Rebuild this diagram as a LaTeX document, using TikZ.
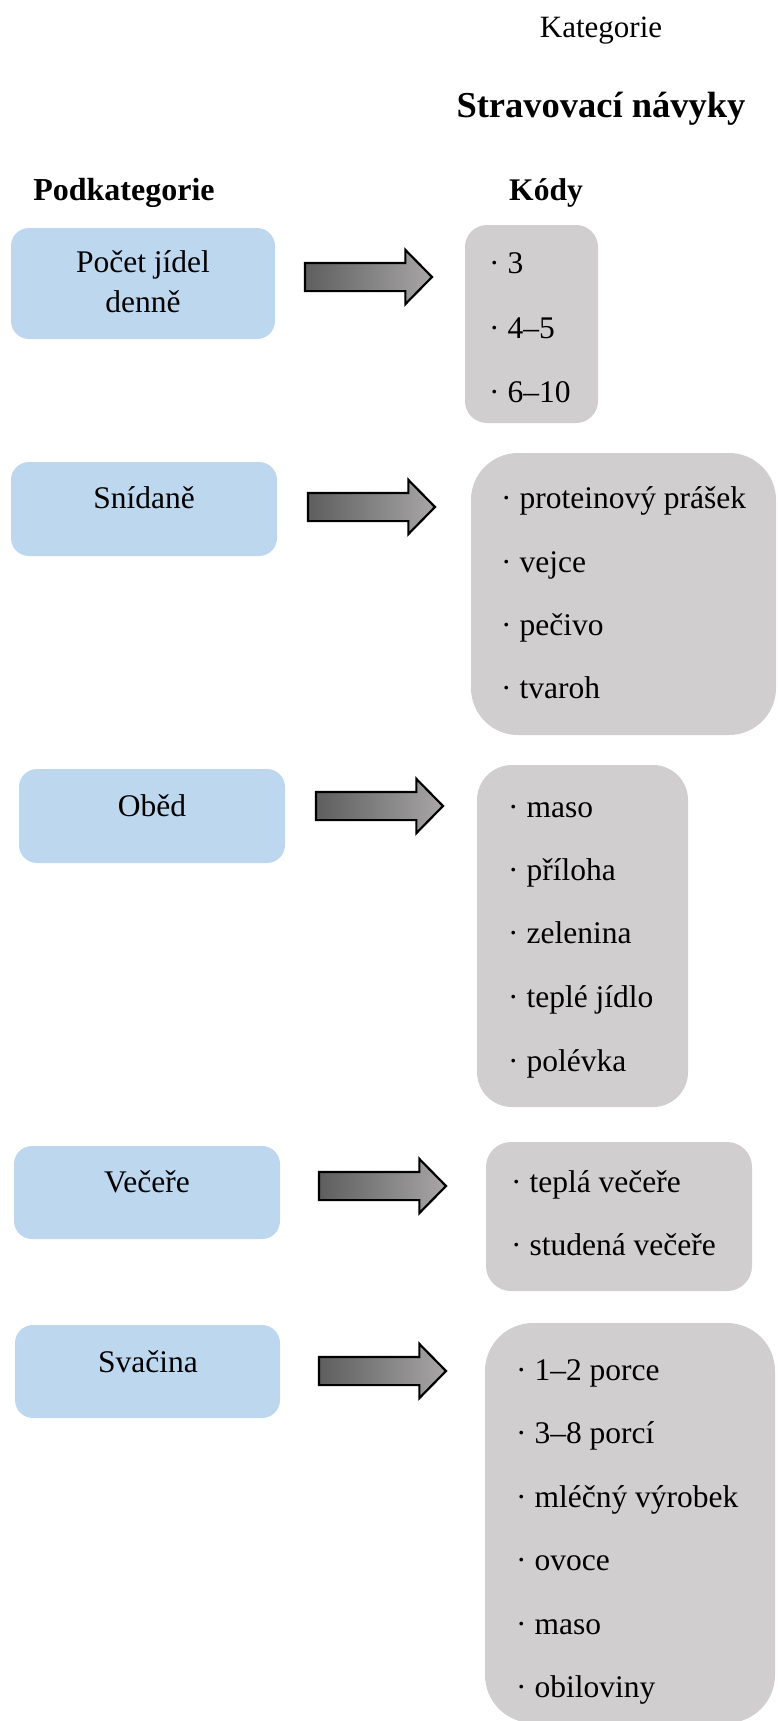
\documentclass[tikz,border=0pt]{standalone}
\usepackage{fontspec}
\setmainfont{Liberation Serif}
\usetikzlibrary{shapes.arrows}
\definecolor{subblue}{HTML}{BDD7EE}
\definecolor{codegray}{HTML}{D0CECE}
\definecolor{arrdark}{HTML}{5E5E5E}
\definecolor{arrlight}{HTML}{A8A6A6}
\begin{document}
\begin{tikzpicture}[x=1pt,y=-1pt,
  subbox/.style={fill=subblue, draw=none, anchor=north west, inner sep=0pt, outer sep=0pt, rounded corners=18pt},
  codebox/.style={fill=codegray, draw=none, anchor=north west, inner sep=0pt, outer sep=0pt},
  bodyfont/.style={font=\fontsize{31.5}{40}\selectfont},
  sublabel/.style={bodyfont, anchor=base, inner sep=0pt, align=center},
  codeitem/.style={bodyfont, anchor=base west, inner sep=0pt},
  headreg/.style={anchor=base, inner sep=0pt, font=\fontsize{31}{36}\selectfont},
  headbold/.style={anchor=base, inner sep=0pt, font=\bfseries\fontsize{#1}{40}\selectfont},
  blockarrow/.style={single arrow, draw=black, line width=2.2pt, left color=arrdark, right color=arrlight,
    inner xsep=0pt, inner ysep=13pt, minimum width=52pt, minimum height=127pt,
    single arrow head extend=13pt, single arrow tip angle=91, anchor=tail, outer sep=0pt},
  ]
\useasboundingbox (0,0) rectangle (778,1721);

% headings
\node[headreg] (kat) at (601,37) {Kategorie};
\node[headbold=36.5] (title) at (601,117) {Stravovací návyky};
\node[headbold=32] (podk) at (124,200) {Podkategorie};
\node[headbold=31.5] (kody) at (546,200) {Kódy};

% subcategory boxes
\node[subbox, minimum width=264pt, minimum height=111pt] (s1) at (11,228) {};
\node[subbox, minimum width=266pt, minimum height=94pt] (s2) at (11,462) {};
\node[subbox, minimum width=266pt, minimum height=94pt] (s3) at (19,769) {};
\node[subbox, minimum width=266pt, minimum height=93pt] (s4) at (14,1146) {};
\node[subbox, minimum width=265pt, minimum height=93pt] (s5) at (15,1325) {};

% (base anchor of a two-line node is the baseline of its last line)
\node[sublabel] (t1) at (143,312) {Počet jídel\\denně};
\node[sublabel] (t2) at (144,508) {Snídaně};
\node[sublabel] (t3) at (152,816) {Oběd};
\node[sublabel] (t4) at (147,1192) {Večeře};
\node[sublabel] (t5) at (148,1372) {Svačina};

% code boxes
\node[codebox, rounded corners=22pt, minimum width=133pt, minimum height=198pt] (c1) at (465,225) {};
\node[codebox, rounded corners=47pt, minimum width=305pt, minimum height=282pt] (c2) at (471,453) {};
\node[codebox, rounded corners=35pt, minimum width=211pt, minimum height=342pt] (c3) at (477,765) {};
\node[codebox, rounded corners=25pt, minimum width=266pt, minimum height=149pt] (c4) at (486,1142) {};
\node[codebox, rounded corners=48pt, minimum width=290pt, minimum height=400pt] (c5) at (485,1323) {};

% arrows
\node[blockarrow] (a1) at (305,277) {};
\node[blockarrow] (a2) at (308,507) {};
\node[blockarrow] (a3) at (316,806) {};
\node[blockarrow] (a4) at (319,1186) {};
\node[blockarrow] (a5) at (319,1371) {};

% code items
\node[codeitem] (i11) at (489,273) {· 3};
\node[codeitem] (i12) at (489,338) {· 4–5};
\node[codeitem] (i13) at (489,402) {· 6–10};

\node[codeitem] (i21) at (501,508) {· proteinový prášek};
\node[codeitem] (i22) at (501,572) {· vejce};
\node[codeitem] (i23) at (501,635) {· pečivo};
\node[codeitem] (i24) at (501,698) {· tvaroh};

\node[codeitem] (i31) at (508,817) {· maso};
\node[codeitem] (i32) at (508,880) {· příloha};
\node[codeitem] (i33) at (508,943) {· zelenina};
\node[codeitem] (i34) at (508,1007) {· teplé jídlo};
\node[codeitem] (i35) at (508,1071) {· polévka};

\node[codeitem] (i41) at (511,1192) {· teplá večeře};
\node[codeitem] (i42) at (511,1255) {· studená večeře};

\node[codeitem] (i51) at (516,1380) {· 1–2 porce};
\node[codeitem] (i52) at (516,1443) {· 3–8 porcí};
\node[codeitem] (i53) at (516,1507) {· mléčný výrobek};
\node[codeitem] (i54) at (516,1570) {· ovoce};
\node[codeitem] (i55) at (516,1634) {· maso};
\node[codeitem] (i56) at (516,1697) {· obiloviny};
\end{tikzpicture}
\end{document}
